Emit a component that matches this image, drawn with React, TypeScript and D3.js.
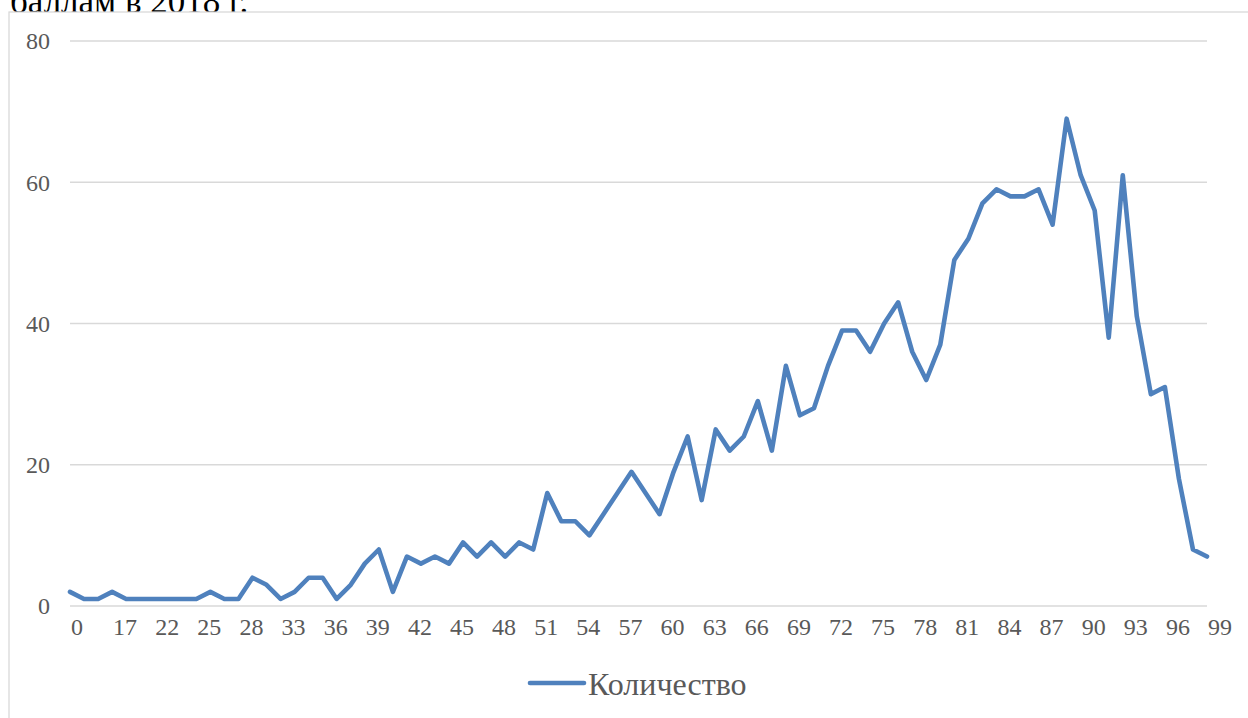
import React from "react";
import * as d3 from "d3";

// Categories (scores) and series values
const scores: number[] = [
  0, 12, 15, 17, 19, 20, 22, 23, 24, 25, 26, 27, 28, 29, 31, 33, 34, 35,
  36, 37, 38, 39, 40, 41, 42, 43, 44, 45, 46, 47, 48, 49, 50, 51, 52, 53,
  54, 55, 56, 57, 58, 59, 60, 61, 62, 63, 64, 65, 66, 67, 68, 69, 70, 71,
  72, 73, 74, 75, 76, 77, 78, 79, 80, 81, 82, 83, 84, 85, 86, 87, 88, 89,
  90, 91, 92, 93, 94, 95, 96, 97, 98, 99,
];
const counts: number[] = [
  2, 1, 1, 2, 1, 1, 1, 1, 1, 1, 2, 1, 1, 4, 3, 1, 2, 4,
  4, 1, 3, 6, 8, 2, 7, 6, 7, 6, 9, 7, 9, 7, 9, 8, 16, 12,
  12, 10, 13, 16, 19, 16, 13, 19, 24, 15, 25, 22, 24, 29, 22, 34, 27, 28,
  34, 39, 39, 36, 40, 43, 36, 32, 37, 49, 52, 57, 59, 58, 58, 59, 54, 69,
  61, 56, 38, 61, 41, 30, 31, 18, 8, 7,
];
const yTicks: number[] = [0, 20, 40, 60, 80];
const seriesName = "Количество";
const headingTail = "баллам в 2018 г.";

const W = 1248;
const H = 718;
const FONT = "'Liberation Serif', 'Times New Roman', serif";
const TEXT_COLOR = "#595959";
const LINE_COLOR = "#4f81bd";
const GRID_COLOR = "#d9d9d9";

export default function App() {
  const idx = scores.map((_, i) => i);
  const x = d3.scalePoint<number>().domain(idx).range([70, 1207]);
  const y = d3.scaleLinear().domain([0, 80]).range([606, 41]);
  const line = d3
    .line<number>()
    .x((_, i) => x(i) as number)
    .y((d) => y(d));
  const path = line(counts) || "";

  return (
    <svg
      width={W}
      height={H}
      style={{ position: "absolute", left: 0, top: 0, background: "#fff" }}
      fontFamily={FONT}
    >
      {/* partially visible heading above the chart (cut off at the top, as in the source) */}
      <text x={10} y={13} fontSize={35} fill="#000">
        {headingTail}
      </text>
      {/* chart frame */}
      <rect x={9} y={12} width={W + 20} height={H + 20} fill="#fff" stroke="#d6d6d6" strokeWidth={1.2} />

      {/* gridlines */}
      {yTicks.map((t) => (
        <line
          key={"g" + t}
          x1={70}
          x2={1207}
          y1={y(t)}
          y2={y(t)}
          stroke={GRID_COLOR}
          strokeWidth={1.3}
        />
      ))}
      {/* y labels */}
      {yTicks.map((t) => (
        <text
          key={"yl" + t}
          x={50}
          y={y(t)}
          dy="0.35em"
          textAnchor="end"
          fontSize={24}
          fill={TEXT_COLOR}
        >
          {t}
        </text>
      ))}
      {/* x labels, every third category */}
      {scores.map((s, i) =>
        i % 3 === 0 ? (
          <text key={"xl" + i} x={(x(i) as number) + 1} y={635} fontSize={24} fill={TEXT_COLOR}>
            {s}
          </text>
        ) : null
      )}

      {/* series line */}
      <path
        d={path}
        fill="none"
        stroke={LINE_COLOR}
        strokeWidth={4.6}
        strokeLinejoin="round"
        strokeLinecap="round"
      />

      {/* legend */}
      <line x1={530} x2={584} y1={683} y2={683} stroke={LINE_COLOR} strokeWidth={4.6} strokeLinecap="round" />
      <text x={588} y={695} fontSize={32} fill={TEXT_COLOR}>
        {seriesName}
      </text>
    </svg>
  );
}
